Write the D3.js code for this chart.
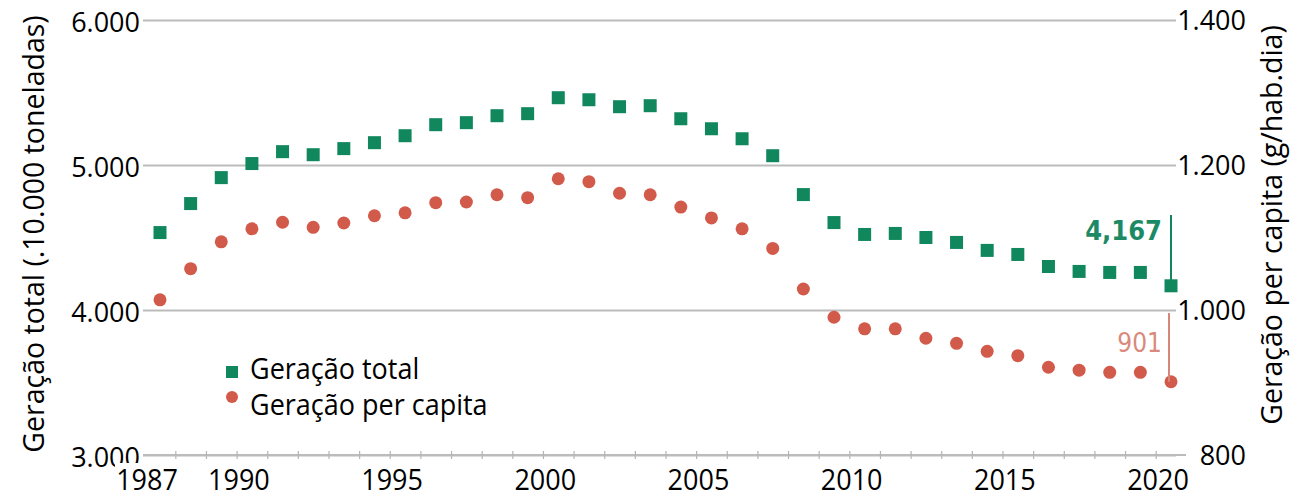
<!DOCTYPE html>
<html>
<head>
<meta charset="utf-8">
<script src="https://cdn.jsdelivr.net/npm/d3@7"></script>
<style>
  body { margin: 0; background: #fff; }
  svg { display: block; font-family: "Open Sans", sans-serif; }
</style>
</head>
<body>
<svg id="chart" width="1297" height="499"></svg>
<script>
// Data
const years = [1987, 1988, 1989, 1990, 1991, 1992, 1993, 1994, 1995, 1996, 1997, 1998,
  1999, 2000, 2001, 2002, 2003, 2004, 2005, 2006, 2007, 2008, 2009, 2010, 2011, 2012,
  2013, 2014, 2015, 2016, 2017, 2018, 2019, 2020];
const geracaoTotal = [4534, 4734, 4913, 5010, 5092, 5071, 5113, 5154, 5202, 5278, 5292, 5340,
  5354, 5464, 5450, 5402, 5409, 5319, 5250, 5181, 5064, 4796, 4603, 4521, 4528, 4500,
  4466, 4411, 4383, 4300, 4266, 4259, 4259, 4167];
const geracaoPerCapita = [1014, 1057, 1094, 1112, 1121, 1114, 1120, 1130, 1134, 1148, 1149, 1159,
  1155, 1181, 1177, 1161, 1159, 1142, 1127, 1112, 1085, 1029, 990, 974, 974, 961,
  954, 943, 937, 921, 917, 914, 914, 901];
const leftTicks = [3000, 4000, 5000, 6000];
const rightTicks = [800, 1000, 1200, 1400];
const yearLabels = [1987, 1990, 1995, 2000, 2005, 2010, 2015, 2020];

const data = years.map((y, i) => ({year: y, total: geracaoTotal[i], pc: geracaoPerCapita[i]}));

const green = "#11875d", red = "#d25a4b";
const pt = d3.formatLocale({decimal: ",", thousands: ".", grouping: [3], currency: ["", ""]}).format(",");

const svg = d3.select("#chart");
const plotLeft = 143, plotRight = 1176, plotTop = 20, plotBottom = 455;

const x = d3.scaleLinear().domain([1987, 2020]).range([160, 1171]);
const yL = d3.scaleLinear().domain([3000, 6000]).range([plotBottom, plotTop]);
const yR = d3.scaleLinear().domain([800, 1400]).range([plotBottom, plotTop]);

// gridlines + left labels
const gl = svg.append("g")
  .attr("transform", "translate(" + plotLeft + ",0)")
  .call(d3.axisLeft(yL).tickValues(leftTicks).tickFormat(pt)
    .tickSize(-(plotRight - plotLeft)).tickPadding(3));
gl.select(".domain").remove();
gl.selectAll(".tick line").attr("stroke", "#bcbcbc").attr("stroke-width", 2);
gl.selectAll(".tick text")
  .attr("dy", "0.42em")
  .style("font-size", "27px")
  .style("font-family", "Open Sans")
  .attr("fill", "#000");

// right labels
const gr = svg.append("g")
  .attr("transform", "translate(1246,0)")
  .call(d3.axisRight(yR).tickValues(rightTicks).tickFormat(pt).tickSize(0).tickPadding(0));
gr.select(".domain").remove();
gr.selectAll(".tick text")
  .attr("text-anchor", "end")
  .attr("dy", "0.35em")
  .style("font-size", "27px")
  .style("font-family", "Open Sans")
  .attr("fill", "#000");

// x axis baseline with small year ticks
const gx = svg.append("g")
  .attr("transform", "translate(0," + plotBottom + ")")
  .call(d3.axisBottom(x).tickValues(years.slice(1).map(d => d - 0.5))
    .tickFormat("").tickSizeOuter(0));
gx.select(".domain").attr("d", "M" + plotLeft + ",0H1186").attr("stroke", "#bcbcbc").attr("stroke-width", 2);
gx.selectAll(".tick line").attr("y1", -4).attr("y2", 4).attr("stroke", "#b5b5b5").attr("stroke-width", 1.2);

// year labels (white boxes behind, as in the source image)
const labelShift = -13;
const yl = svg.append("g").selectAll("g").data(yearLabels).join("g")
  .attr("transform", d => "translate(" + (x(d) + labelShift) + ",490)");
yl.append("rect").attr("x", -32).attr("y", -27).attr("width", 64).attr("height", 36).attr("fill", "#fff");
yl.append("text")
  .attr("text-anchor", "middle")
  .attr("transform", "scale(1,1.1)")
  .style("font-size", "27px")
  .text(d => d);

// markers
svg.append("g").selectAll("rect").data(data).join("rect")
  .attr("x", d => x(d.year) - 6.5)
  .attr("y", d => yL(d.total) - 6.5)
  .attr("width", 13).attr("height", 13)
  .attr("fill", green);

svg.append("g").selectAll("circle").data(data).join("circle")
  .attr("cx", d => x(d.year))
  .attr("cy", d => yR(d.pc))
  .attr("r", 6.5)
  .attr("fill", red);

// annotations for last year
const last = data[data.length - 1];
svg.append("line")
  .attr("x1", x(last.year)).attr("x2", x(last.year))
  .attr("y1", 215).attr("y2", yL(last.total))
  .attr("stroke", green).attr("stroke-width", 2);
svg.append("text")
  .attr("x", x(last.year) - 9).attr("y", 240)
  .attr("text-anchor", "end")
  .style("font-family", "DejaVu Sans Condensed, DejaVu Sans")
  .style("font-weight", "bold")
  .style("font-size", "27px")
  .attr("fill", "#1d8a66")
  .text(d3.format(",")(last.total));

svg.append("line")
  .attr("x1", x(last.year) - 2).attr("x2", x(last.year) - 2)
  .attr("y1", 313).attr("y2", yR(last.pc))
  .attr("stroke", "#d9867a").attr("stroke-width", 2);
svg.append("text")
  .attr("x", x(last.year) - 9).attr("y", 352)
  .attr("text-anchor", "end")
  .style("font-family", "DejaVu Sans Condensed, DejaVu Sans")
  .style("font-size", "26px")
  .attr("fill", "#d98a7c")
  .text(last.pc);

// legend
const legend = svg.append("g");
legend.append("rect").attr("x", 226).attr("y", 366).attr("width", 12).attr("height", 12).attr("fill", green);
legend.append("circle").attr("cx", 232).attr("cy", 397).attr("r", 6).attr("fill", red);
legend.append("text").attr("transform", "translate(250,379) scale(1,1.1)").style("font-size", "27px").text("Geração total");
legend.append("text").attr("transform", "translate(250,415) scale(1,1.1)").style("font-size", "27px").text("Geração per capita");

// axis titles
svg.append("text")
  .attr("transform", "translate(44,234) rotate(-90)")
  .attr("text-anchor", "middle")
  .style("font-size", "28.5px")
  .text("Geração total (.10.000 toneladas)");
svg.append("text")
  .attr("transform", "translate(1282,225) rotate(-90)")
  .attr("text-anchor", "middle")
  .style("font-size", "28.5px")
  .text("Geração per capita (g/hab.dia)");
</script>
</body>
</html>
